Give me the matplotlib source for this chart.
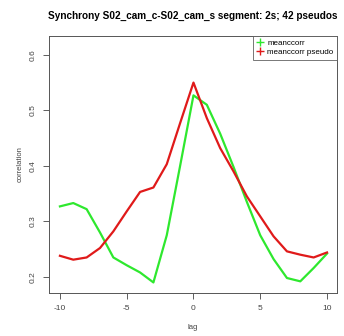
import matplotlib
matplotlib.use("Agg")
import matplotlib.pyplot as plt
from matplotlib.lines import Line2D

lag = list(range(-10, 11))
meanccorr = [0.327, 0.333, 0.322, 0.280, 0.235, 0.221, 0.208, 0.190, 0.275, 0.400, 0.527,
             0.510, 0.458, 0.398, 0.335, 0.275, 0.232, 0.198, 0.192, 0.216, 0.242]
meanccorr_pseudo = [0.238, 0.231, 0.235, 0.252, 0.282, 0.318, 0.353, 0.361, 0.403, 0.477, 0.550,
                    0.486, 0.432, 0.390, 0.345, 0.309, 0.273, 0.246, 0.240, 0.235, 0.244]
xticks = [-10, -5, 0, 5, 10]
yticks = [0.2, 0.3, 0.4, 0.5, 0.6]

plt.rcParams['font.family'] = ['Liberation Sans', 'DejaVu Sans']

fig = plt.figure(figsize=(3.44, 3.36), dpi=100)
ax = fig.add_axes([0.1424, 0.128, 0.8373, 0.765])

green = '#2ee82e'
red = '#e01a1a'
ax.plot(lag, meanccorr, color=green, lw=1.6)
ax.plot(lag, meanccorr_pseudo, color=red, lw=1.6)

ax.set_xlim(-10.82, 10.75)
ax.set_ylim(0.171, 0.634)
ax.set_xticks(xticks)
ax.set_xticklabels([str(t) for t in xticks])
ax.set_yticks(yticks)
ax.set_yticklabels([str(t) for t in yticks], rotation=90, va='center')
ax.tick_params(direction='out', length=4, width=0.6, labelsize=6,
               colors='#444444', pad=5)
for s in ax.spines.values():
    s.set_color('#555555')
    s.set_linewidth(0.7)

ax.set_xlabel('lag', fontsize=5.5, color='#444444', labelpad=8)
ax.set_ylabel('correlation', fontsize=5.5, color='#444444', labelpad=4)
ax.set_title('Synchrony S02_cam_c-S02_cam_s segment: 2s; 42 pseudos',
             fontsize=7.2, fontweight='bold', pad=12, x=0.5)

handles = [Line2D([], [], color=green, marker='+', ls='none', markersize=5.5),
           Line2D([], [], color=red, marker='+', ls='none', markersize=5.5)]
leg = ax.legend(handles, ['meanccorr', 'meanccorr pseudo'], loc='upper right',
                fontsize=5.8, frameon=True, fancybox=False, borderaxespad=0,
                handlelength=0.8, handletextpad=0.5, borderpad=0.45, labelspacing=0.15)
leg.get_frame().set_edgecolor('#555555')
leg.get_frame().set_linewidth(0.7)

fig.savefig('out.png', dpi=100)
